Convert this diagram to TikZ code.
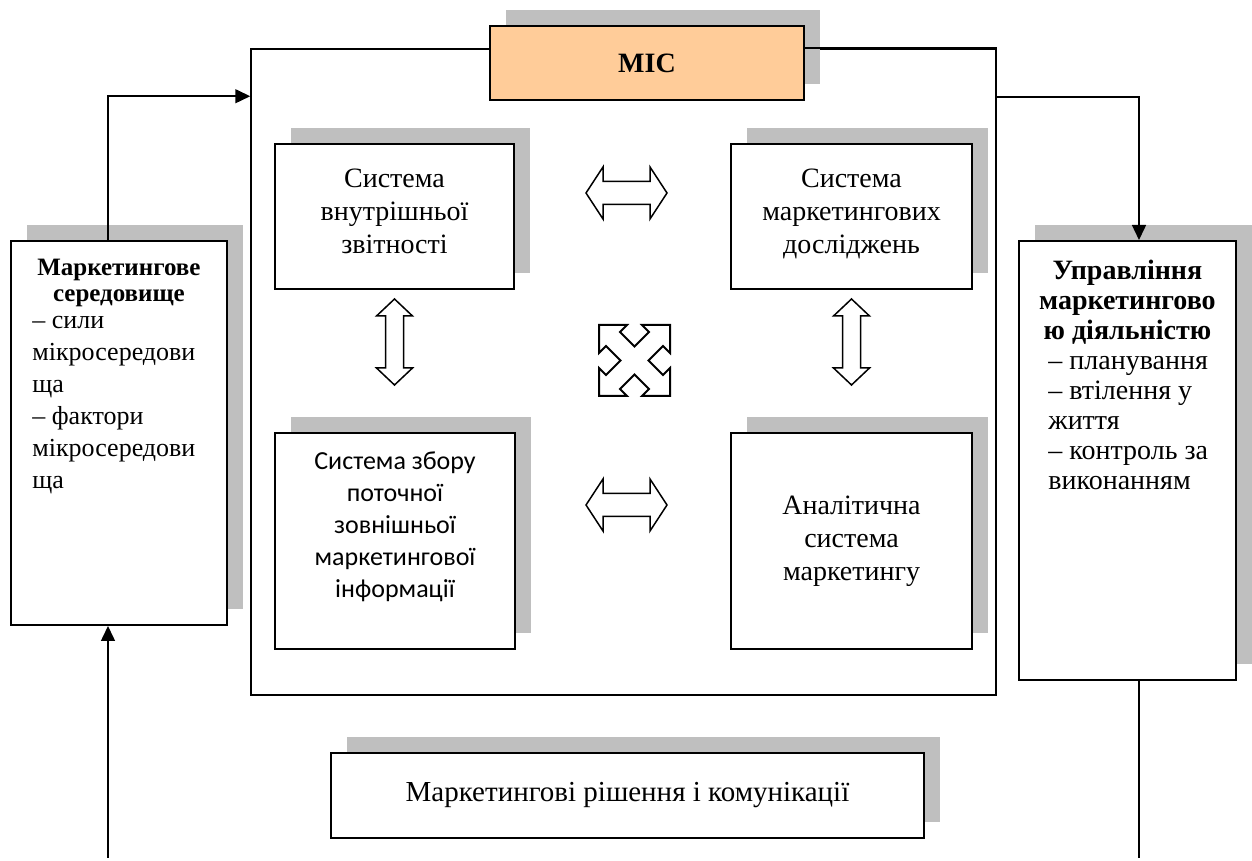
\documentclass[tikz,border=0pt]{standalone}
\usepackage{fontspec}
\setmainfont{Liberation Serif}
\newfontfamily\calibrifont{Carlito}
\usetikzlibrary{arrows.meta,shadows}
\definecolor{shadowgray}{RGB}{191,191,191}
\definecolor{micfill}{RGB}{255,204,153}
\tikzset{
  box/.style={draw=black,line width=1pt,fill=white,inner sep=2pt,align=center,
    font=\fontsize{14}{16.5}\selectfont,
    drop shadow={shadow xshift=8pt,shadow yshift=8pt,fill=shadowgray,opacity=1}},
  boxtext/.style={inner sep=0pt,font=\fontsize{14}{15}\selectfont},
  frame/.style={draw=black,line width=0.75pt,inner sep=0pt},
  arr/.style={-{Triangle[length=7.5pt,width=7pt]},line width=0.75pt},
  link/.style={line width=0.75pt},
  hollow/.style={draw=black,line width=0.75pt,fill=white,line join=miter},
  hdbl/.pic={\draw[hollow] (-40.5,0) -- (-23.5,26) -- (-23.5,11.5) -- (23.5,11.5)
    -- (23.5,26) -- (40.5,0) -- (23.5,-26) -- (23.5,-11.5) -- (-23.5,-11.5)
    -- (-23.5,-26) -- cycle;},
  vdbl/.pic={\draw[hollow] (0,-43) -- (18,-26) -- (9,-26) -- (9,26) -- (18,26)
    -- (0,43) -- (-18,26) -- (-9,26) -- (-9,-26) -- (-18,-26) -- cycle;},
  cross/.pic={\draw[hollow,line width=1pt] (-35.5,35.5) -- (-7.5,35.5) -- (-14.5,28.5)
    -- (0,14) -- (14.5,28.5) -- (7.5,35.5) -- (35.5,35.5) -- (35.5,7.5)
    -- (28.5,14.5) -- (14,0) -- (28.5,-14.5) -- (35.5,-7.5) -- (35.5,-35.5)
    -- (7.5,-35.5) -- (14.5,-28.5) -- (0,-14) -- (-14.5,-28.5) -- (-7.5,-35.5)
    -- (-35.5,-35.5) -- (-35.5,-7.5) -- (-28.5,-14.5) -- (-14,0) -- (-28.5,14.5)
    -- (-35.5,7.5) -- cycle;}
}

\begin{document}
\begin{tikzpicture}[x=0.5pt,y=0.5pt]
  \useasboundingbox (0,0) rectangle (1252,861);

  % MIS frame and title
  \node[frame,minimum width=372.5pt,minimum height=323pt] (mis) at (623.5,489) {};
  \node[box,fill=micfill,minimum width=157pt,minimum height=37pt,
    font=\fontsize{14}{16}\selectfont\bfseries] (mic) at (647,798) {МІС};
  \draw[frame] (mic.east |- mis.north) -- (mis.north east);

  % subsystems
  \node[box,minimum width=119.5pt,minimum height=72.5pt,text depth=5pt] (irep)
    at (394.5,644.5) {Система\\внутрішньої\\звітності};
  \node[box,minimum width=120.5pt,minimum height=72.5pt,text depth=5pt] (mres)
    at (851.5,644.5) {Система\\маркетингових\\досліджень};
  \node[box,minimum width=120pt,minimum height=108pt] (mint) at (395,320) {};
  \node[boxtext,anchor=north,align=center,font=\calibrifont\fontsize{13}{16}\selectfont]
    (minttxt) at (395,410)
    {Система збору\\поточної\\зовнішньої\\маркетингової\\інформації};
  \node[box,minimum width=120.5pt,minimum height=108pt] (anl) at (851.5,320)
    {Аналітична\\система\\маркетингу};

  \node[box,minimum width=296.5pt,minimum height=42.5pt,
    font=\fontsize{14.5}{16}\selectfont] (dec) at (627.5,65.5)
    {Маркетингові рішення і комунікації};

  % side boxes
  \node[box,minimum width=108pt,minimum height=192pt] (env) at (119,428) {};
  \node[boxtext,anchor=north west,align=left,font=\fontsize{13}{16}\selectfont]
    (envtxt) at (32,602.5)
    {\makebox[86.5pt][c]{\fontsize{12.5}{14}\selectfont\bfseries Маркетингове}\\[-3pt]
     \makebox[86.5pt][c]{\fontsize{12.5}{14}\selectfont\bfseries середовище}\\[-2.5pt]
     – сили\\мікросередови\\ща\\– фактори\\мікросередови\\ща};
  \node[box,minimum width=108.5pt,minimum height=219.5pt] (mgmt) at (1127.5,400.5) {};
  \node[boxtext,anchor=north west,align=left] (mgmttxt) at (1048,601.5)
    {\makebox[79pt][c]{\bfseries Управління}\\
     \makebox[79pt][c]{\bfseries маркетингово}\\
     \makebox[79pt][c]{\bfseries ю діяльністю}\\
     – планування\\– втілення у\\життя\\– контроль за\\виконанням};

  % hollow arrows between subsystems
  \pic at (626.5,668) {hdbl};
  \pic at (626.5,356) {hdbl};
  \pic at (394.5,519) {vdbl};
  \pic at (851.5,519) {vdbl};
  \pic at (634.5,500.5) {cross};

  % connectors
  \coordinate (envin) at (108,3);
  \coordinate (mgmtout) at (1139,3);
  \draw[arr] ([xshift=-5.5pt]env.north) |- ([yshift=-24pt]mis.north west);
  \draw[arr] ([yshift=-24.5pt]mis.north east) -| ([xshift=5.75pt]mgmt.north);
  \draw[arr] (envin) -- ([xshift=-5.5pt]env.south);
  \draw[link] ([xshift=5.75pt]mgmt.south) -- (mgmtout);
\end{tikzpicture}
\end{document}
